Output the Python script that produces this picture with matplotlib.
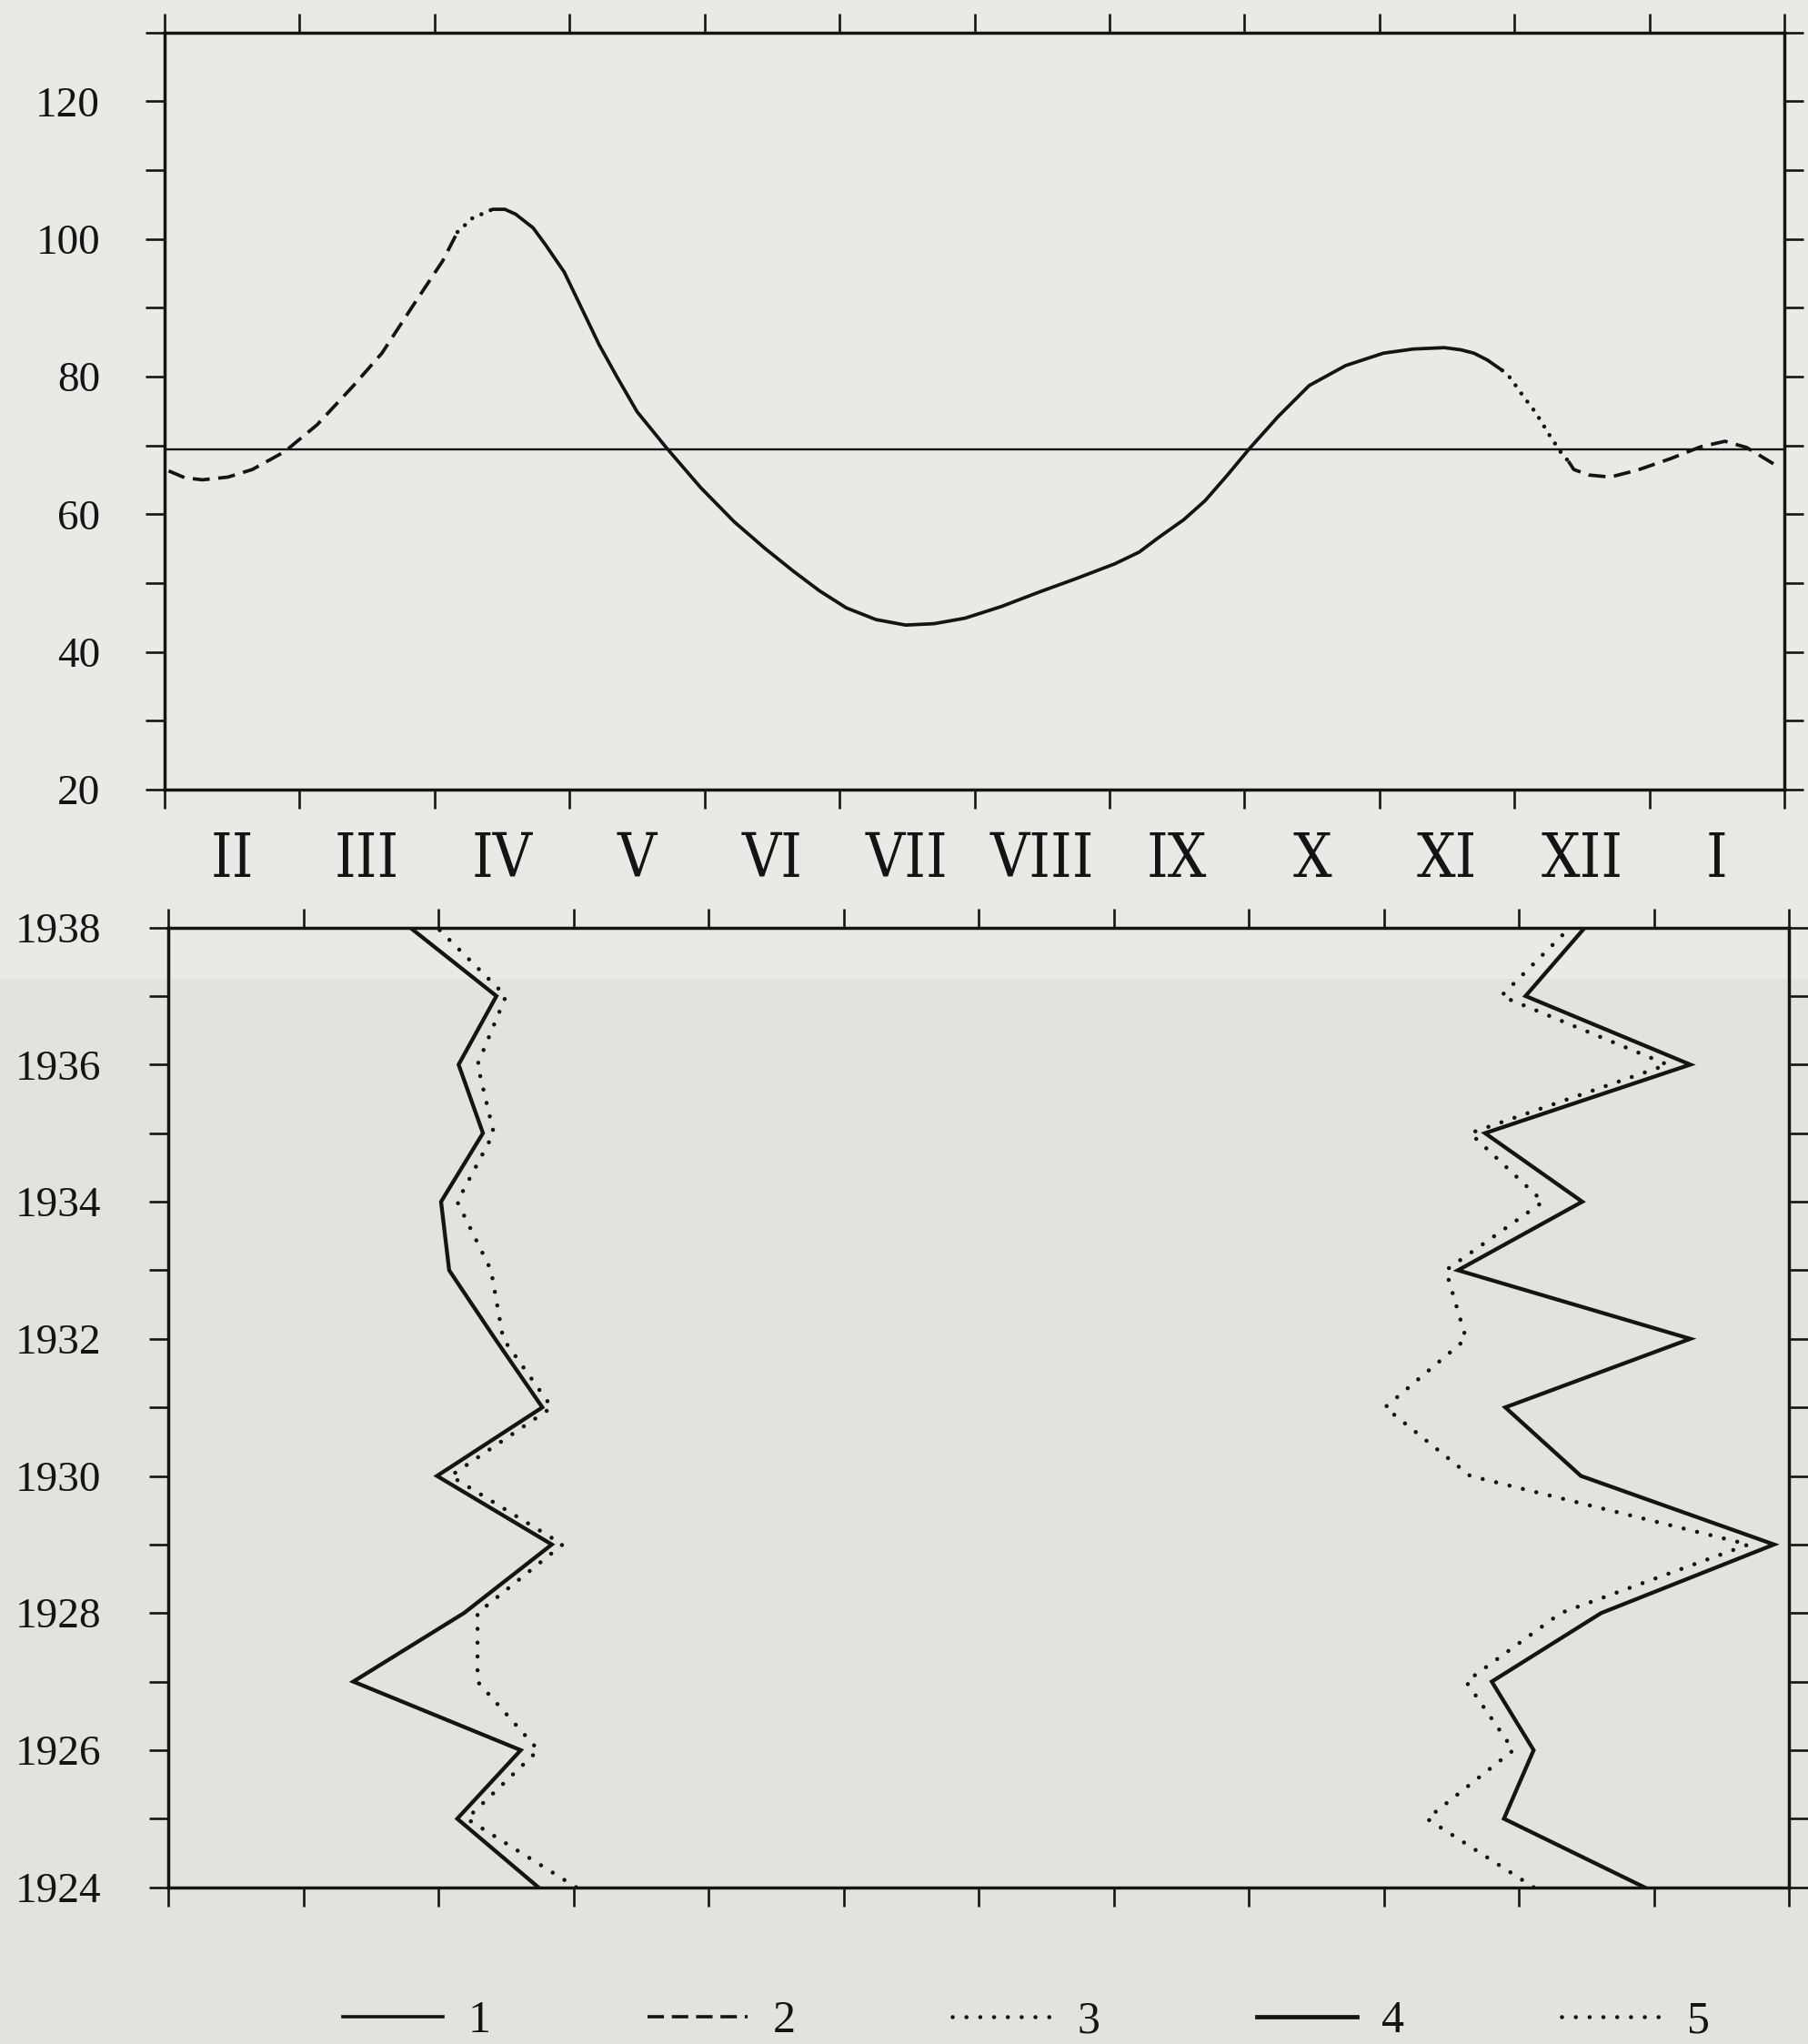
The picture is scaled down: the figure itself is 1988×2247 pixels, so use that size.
import numpy as np
import matplotlib
matplotlib.use('Agg')
import matplotlib.pyplot as plt
from matplotlib.lines import Line2D
from matplotlib.patches import Rectangle
from matplotlib import font_manager as fm

plt.rcParams['font.family'] = ['Liberation Serif', 'DejaVu Serif']

# ---------------- data ----------------
month_labels = ['II', 'III', 'IV', 'V', 'VI', 'VII', 'VIII', 'IX', 'X', 'XI', 'XII', 'I']
value_ticks = [20, 30, 40, 50, 60, 70, 80, 90, 100, 110, 120, 130]
value_labels = ['20', '', '40', '', '60', '', '80', '', '100', '', '120', '']
mean_level = 69.4

# upper curve, split by line style (month position, value)
seg2a_x = [0.03, 0.15, 0.28, 0.47, 0.65, 0.89, 1.13, 1.40, 1.61, 1.83, 2.06, 2.17]
seg2a_y = [66.3, 65.3, 65.0, 65.4, 66.5, 69.1, 73.0, 78.7, 83.4, 90.0, 96.8, 101.0]
seg3a_x = [2.17, 2.28, 2.43]
seg3a_y = [101.0, 103.0, 104.3]
seg1_x = [2.43, 2.52, 2.60, 2.73, 2.82, 2.96, 3.09, 3.22, 3.35, 3.50,
          3.72, 3.97, 4.22, 4.45, 4.66, 4.85, 5.05, 5.27, 5.49, 5.70,
          5.93, 6.20, 6.48, 6.76, 7.04, 7.22, 7.37, 7.55, 7.71, 7.87,
          8.04, 8.25, 8.48, 8.75, 9.03, 9.25, 9.48, 9.60, 9.70, 9.80, 9.91]
seg1_y = [104.3, 104.3, 103.6, 101.6, 99.2, 95.2, 89.9, 84.6, 80.0, 74.9,
          69.6, 63.9, 58.9, 55.0, 51.7, 48.9, 46.4, 44.7, 43.9, 44.1,
          44.9, 46.6, 48.7, 50.7, 52.8, 54.5, 56.7, 59.2, 62.0, 65.6,
          69.6, 74.2, 78.7, 81.6, 83.4, 84.0, 84.2, 83.9, 83.4, 82.4, 80.9]
seg3b_x = [9.91, 9.97, 10.06, 10.16, 10.25, 10.34, 10.40]
seg3b_y = [80.9, 79.8, 77.3, 74.7, 71.8, 69.1, 67.7]
seg2b_x = [10.40, 10.44, 10.55, 10.71, 10.91, 11.16, 11.38, 11.56, 11.72, 11.93]
seg2b_y = [67.7, 66.5, 65.7, 65.4, 66.4, 68.1, 69.8, 70.6, 69.7, 67.2]

# lower panel: yearly positions (in months)
years = [1924, 1925, 1926, 1927, 1928, 1929, 1930, 1931,
         1932, 1933, 1934, 1935, 1936, 1937, 1938]
year_labels = ['1924', '', '1926', '', '1928', '', '1930', '',
               '1932', '', '1934', '', '1936', '', '1938']
left_solid = [2.74, 2.14, 2.61, 1.37, 2.19, 2.84, 1.99, 2.77, 2.42, 2.08, 2.02, 2.33, 2.15, 2.43, 1.79]
left_dotted = [3.02, 2.21, 2.74, 2.29, 2.29, 2.92, 2.09, 2.84, 2.48, 2.39, 2.14, 2.41, 2.29, 2.50, 1.99]
right_solid = [10.93, 9.89, 10.11, 9.80, 10.61, 11.89, 10.46, 9.90, 11.27, 9.55, 10.47, 9.75, 11.27, 10.05, 10.49]
right_dotted = [10.11, 9.32, 9.96, 9.61, 10.31, 11.70, 9.64, 9.01, 9.61, 9.46, 10.18, 9.64, 11.10, 9.87, 10.38]

legend_labels = ['1', '2', '3', '4', '5']

# ---------------- fonts ----------------
cond_file = None
for f in fm.fontManager.ttflist:
    if 'Serif' in f.name and (f.stretch == 'condensed' or 'Condensed' in f.name) \
            and f.style == 'normal' and f.weight in (400, 'normal', 'regular'):
        cond_file = f.fname
        break

def fprop(size):
    if cond_file:
        return fm.FontProperties(fname=cond_file, size=size)
    return fm.FontProperties(family=['Liberation Serif', 'DejaVu Serif'], size=size)

serif = ['Liberation Serif', 'DejaVu Serif']

# ---------------- figure ----------------
W, H = 1988, 2247
fig = plt.figure(figsize=(W / 100, H / 100), dpi=100)
fig.patch.set_facecolor('#e3e3de')
fig.add_artist(Rectangle((0, 1 - 1076 / H), 1, 1076 / H, transform=fig.transFigure,
                         facecolor='#e9e9e5', edgecolor='none', zorder=-10))

ink = '#141414'
spine_w = 2.5
tick_len = 15
tick_w = 1.9

def style_axes(ax):
    ax.set_facecolor('none')
    for s in ax.spines.values():
        s.set_linewidth(spine_w)
        s.set_color(ink)
    ax.tick_params(which='major', direction='out', length=tick_len, width=tick_w,
                   color=ink, top=True, bottom=True, left=True, right=True,
                   labeltop=False, labelbottom=False, labelright=False, labelleft=True,
                   pad=36)

# top panel
ax1 = fig.add_axes([181 / W, 1 - 868 / H, 1781 / W, 832.4 / H])
style_axes(ax1)
ax1.set_xlim(0, 12)
ax1.set_ylim(20, 130)
ax1.set_xticks(range(13))
ax1.set_yticks(value_ticks)
ax1.set_yticklabels(value_labels)
for t in ax1.get_yticklabels():
    t.set_fontproperties(fm.FontProperties(family=serif, size=34))
    t.set_color(ink)
ax1.set_xticks(np.arange(12) + 0.5, minor=True)
ax1.set_xticklabels(month_labels, minor=True)
ax1.tick_params(axis='x', which='minor', length=0, pad=32, labelbottom=True, labeltop=False)
for t in ax1.get_xticklabels(minor=True):
    t.set_fontproperties(fprop(48 if cond_file else 44))
    t.set_color(ink)

ax1.axhline(mean_level, color=ink, lw=1.7, zorder=2)
dash_style = dict(color=ink, lw=2.7, dashes=(5.0, 2.5), dash_capstyle='butt')
dot_style = dict(color=ink, lw=3.3, dashes=(0.01, 2.4), dash_capstyle='round')
ax1.plot(seg2a_x, seg2a_y, **dash_style)
ax1.plot(seg3a_x, seg3a_y, **dot_style)
ax1.plot(seg1_x, seg1_y, color=ink, lw=2.7, solid_capstyle='round', solid_joinstyle='round')
ax1.plot(seg3b_x, seg3b_y, **dot_style)
ax1.plot(seg2b_x, seg2b_y, **dash_style)

# bottom panel
ax2 = fig.add_axes([185 / W, 1 - 2074.7 / H, 1782 / W, 1055.1 / H])
style_axes(ax2)
ax2.set_xlim(0, 12)
ax2.set_ylim(1924, 1938)
ax2.set_xticks(range(13))
ax2.set_yticks(years)
ax2.set_yticklabels(year_labels)
ax2.tick_params(axis='y', pad=38)
for t in ax2.get_yticklabels():
    t.set_fontproperties(fm.FontProperties(family=serif, size=34))
    t.set_color(ink)

solid4 = dict(color=ink, lw=3.1, solid_joinstyle='miter')
dot5 = dict(color=ink, lw=3.3, dashes=(0.01, 3.3), dash_capstyle='round')
ax2.plot(left_dotted, years, **dot5)
ax2.plot(left_solid, years, **solid4)
ax2.plot(right_dotted, years, **dot5)
ax2.plot(right_solid, years, **solid4)

# legend
handles = [
    Line2D([], [], color=ink, lw=2.6),
    Line2D([], [], color=ink, lw=2.6, dashes=(5.0, 2.4)),
    Line2D([], [], color=ink, lw=3.3, dashes=(0.01, 3.3), dash_capstyle='round'),
    Line2D([], [], color=ink, lw=3.4),
    Line2D([], [], color=ink, lw=3.3, dashes=(0.01, 3.3), dash_capstyle='round'),
]
leg = fig.legend(handles, legend_labels, ncol=5, loc='center left',
                 bbox_to_anchor=(377 / W, 1 - 2222 / H), frameon=False,
                 borderpad=0, borderaxespad=0, handlelength=2.2,
                 handletextpad=0.55, columnspacing=3.45,
                 prop=fm.FontProperties(family=serif, size=36))
for t in leg.get_texts():
    t.set_color(ink)

fig.savefig('out.png', dpi=100, facecolor=fig.get_facecolor())
